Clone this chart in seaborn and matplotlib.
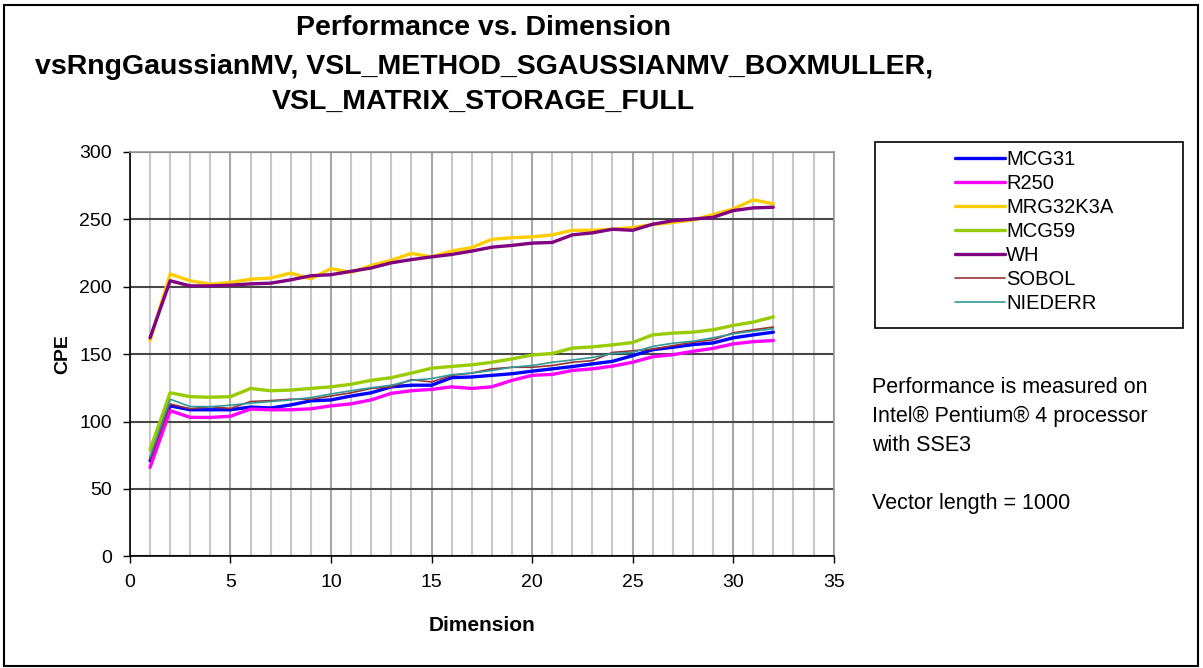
import numpy as np
import pandas as pd
import matplotlib
matplotlib.use('Agg')
import matplotlib.pyplot as plt
from matplotlib.patches import Rectangle
from matplotlib.ticker import MultipleLocator
import seaborn as sns

dims = list(range(1, 33))

mcg31 = [71, 111.6, 108.7, 108.7, 108.7, 110.7, 110, 112.3, 115.3, 116, 118.9, 121.3, 125.7, 126.9, 126.9, 132.5,
         133, 134.2, 135.4, 137.3, 139, 140.7, 142.7, 144.6, 148.8, 153.2, 155, 157, 158.2, 162, 164.2, 166.2]
r250 = [66, 108, 103.1, 103, 103.9, 109.2, 108.7, 108.7, 109.4, 111.6, 113.1, 116, 120.9, 122.8, 123.8, 125.7,
        124.5, 125.7, 130.5, 134.2, 134.9, 137.8, 139, 141, 143.9, 148, 149.5, 152, 154.2, 157.5, 159.2, 160]
mrg32k3a = [160, 209.3, 204.3, 201.8, 203, 205.5, 206.3, 210, 205.8, 213.3, 210.5, 215.6, 219.5, 224.6, 222, 226.3,
            228.9, 235, 236.2, 236.8, 238.3, 241.7, 241.7, 242.5, 243.8, 246, 247.5, 249.3, 253.3, 257.5, 264.3, 261.3]
mcg59 = [79, 121.3, 118.4, 118, 118.4, 124.5, 122.8, 123.3, 124.5, 125.7, 127.6, 130.5, 132.5, 135.9, 139.5, 140.8,
         142, 143.9, 146.4, 149.3, 150.4, 154.4, 155.3, 156.8, 158.5, 164.2, 165.5, 166.2, 168, 171.2, 173.7, 177.5]
wh = [162, 204.3, 200.5, 200.5, 201, 202, 202.5, 205, 208, 208.8, 211.3, 213.8, 217.6, 220, 222, 223.8,
      226.3, 229.2, 230.5, 232.2, 232.7, 238.3, 239.8, 242.5, 241.7, 246.2, 248.8, 250, 251.3, 256.3, 258.3, 258.8]
sobol = [72, 113, 109.5, 111, 109.7, 114.8, 115.5, 116.5, 116.5, 118.9, 121.3, 124.5, 125.7, 131, 129.3, 134.2,
         135.9, 139, 140.2, 140.2, 141.5, 143.9, 145.1, 151.2, 152.4, 153.7, 156.2, 158.7, 160.5, 165.7, 168, 170]
niederr = [74, 116.5, 111.1, 111, 112.1, 113.6, 114.8, 116, 117.7, 120.4, 122.8, 125, 126.9, 130.5, 131.8, 134.7,
           135.9, 137.8, 140.2, 141.5, 143.9, 145.6, 147.5, 150.4, 151.2, 155.7, 158, 159.5, 162, 165, 167, 168.7]

series = ['MCG31', 'R250', 'MRG32K3A', 'MCG59', 'WH', 'SOBOL', 'NIEDERR']
values = [mcg31, r250, mrg32k3a, mcg59, wh, sobol, niederr]
colors = ['#0000FF', '#FF00FF', '#FFCC00', '#99CC00', '#800080', '#993333', '#339999']
widths = [2.4, 2.4, 2.4, 2.4, 2.4, 1.2, 1.2]

df = pd.DataFrame({'Dimension': dims})
for name, v in zip(series, values):
    df[name] = v

sns.set_theme(style="white")
plt.rcParams['font.family'] = ['Liberation Sans', 'DejaVu Sans']
plt.rcParams.update({'text.color': 'black', 'axes.labelcolor': 'black',
                     'xtick.color': 'black', 'ytick.color': 'black'})

fig = plt.figure(figsize=(12.03, 6.68), dpi=100)
ax = fig.add_axes([0.108, 0.167, 0.585, 0.606])

for name, c, lw in zip(series, colors, widths):
    sns.lineplot(data=df, x='Dimension', y=name, color=c, lw=lw, label=name, ax=ax, zorder=3)

ax.set_xlim(0, 35)
ax.set_ylim(0, 300)
ax.xaxis.set_major_locator(MultipleLocator(5))
ax.xaxis.set_minor_locator(MultipleLocator(1))
ax.yaxis.set_major_locator(MultipleLocator(50))
ax.grid(which='minor', axis='x', color='#C8C8C8', lw=1.5)
ax.grid(which='major', axis='x', color='#A8A8A8', lw=1.5)
ax.grid(which='major', axis='y', color='#484848', lw=1.5)
ax.set_axisbelow(True)

for s in ['top', 'right']:
    ax.spines[s].set_color('#999999')
    ax.spines[s].set_linewidth(1.2)
for s in ['left', 'bottom']:
    ax.spines[s].set_color('black')
    ax.spines[s].set_linewidth(1.2)
ax.tick_params(which='major', direction='out', length=5, width=1, colors='black',
               labelsize=14, left=True, bottom=True)
ax.tick_params(axis='y', pad=8)
ax.tick_params(axis='x', pad=8)
ax.tick_params(which='minor', length=0)

ax.set_xlabel('Dimension', fontsize=15, fontweight='bold', labelpad=18)
ax.set_ylabel('CPE', fontsize=14, fontweight='bold', labelpad=6)

leg = ax.legend(loc='upper left', bbox_to_anchor=(0.787, 0.788), bbox_transform=fig.transFigure,
                frameon=False, fontsize=14.5, handlelength=2.5, handletextpad=0.05,
                labelspacing=0.25, borderaxespad=0)
fig.add_artist(Rectangle((0.727, 0.509), 0.256, 0.278, transform=fig.transFigure,
                         fill=False, ec='black', lw=1.2))

fig.add_artist(Rectangle((0.003, 0.003), 0.993, 0.989, transform=fig.transFigure,
                         fill=False, ec='black', lw=1.5))

tkw = dict(ha='center', va='center', fontsize=20.5, fontweight='bold')
fig.text(0.402, 0.958, 'Performance vs. Dimension', **tkw)
fig.text(0.402, 0.899, 'vsRngGaussianMV, VSL_METHOD_SGAUSSIANMV_BOXMULLER,', **tkw)
fig.text(0.402, 0.847, 'VSL_MATRIX_STORAGE_FULL', **tkw)

note = 'Performance is measured on\nIntel® Pentium® 4 processor\nwith SSE3\n\nVector length = 1000'
fig.text(0.725, 0.436, note, ha='left', va='top', fontsize=15.5, linespacing=1.5)

fig.savefig('out.png', dpi=100)
